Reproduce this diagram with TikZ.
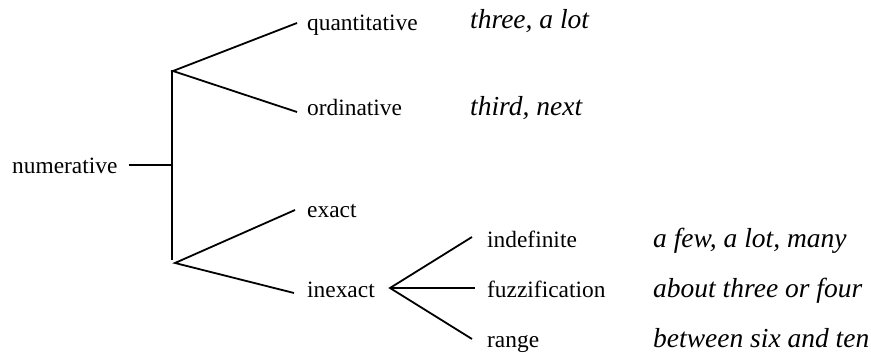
\documentclass[tikz,border=0pt]{standalone}
\usepackage{fontspec}
\setmainfont{Liberation Serif}
\usetikzlibrary{calc}
\begin{document}
\begin{tikzpicture}[x=1pt,y=-1pt,
  term/.style={anchor=base west,inner sep=0pt,font=\fontsize{23.4}{28}\selectfont},
  example/.style={anchor=base west,inner sep=0pt,font=\fontsize{27.5}{33}\selectfont\itshape},
  branch/.style={line width=1.8pt}]
\useasboundingbox (0,0) rectangle (871,353);
% terms
\node[term] (num) at (12,173) {numerative};
\node[term] (quant) at (307,31) {quantitative};
\node[term] (ord) at (307,116) {ordinative};
\node[term] (exact) at (307,217) {exact};
\node[term] (inexact) at (307,297) {inexact};
\node[term] (indef) at (487,247) {indefinite};
\node[term] (fuzz) at (487,297) {fuzzification};
\node[term] (range) at (487,347) {range};
% examples
\node[example] (exq) at (470,29) {three, a lot};
\node[example] (exo) at (470,115) {third, next};
\node[example] (exi) at (653,247) {a few, a lot, many};
\node[example] (exf) at (653,297) {about three or four};
\node[example] (exr) at (653,347) {between six and ten};
% fork points
\coordinate (vtop) at (172,70);
\coordinate (vbot) at (172,260);
\coordinate (ua) at (173,71);
\coordinate (la) at (175,263);
\coordinate (ia) at (390,288);
% connectors
\draw[branch] (vtop) -- (vbot);
\draw[branch] ([xshift=11pt]num.east) -- (num.east -| vtop);
\draw[branch] ($(quant.base west)+(-10,-8)$) -- (ua) -- ($(ord.base west)+(-10,-4)$);
\draw[branch] ($(exact.base west)+(-12,-7)$) -- (la) -- ($(inexact.base west)+(-13,-4)$);
\draw[branch] ($(indef.base west)+(-15,-10)$) -- (ia) -- ($(range.base west)+(-15,-8)$);
\draw[branch] (ia) -- ($(fuzz.base west)+(-12,-9)$);
\end{tikzpicture}
\end{document}
